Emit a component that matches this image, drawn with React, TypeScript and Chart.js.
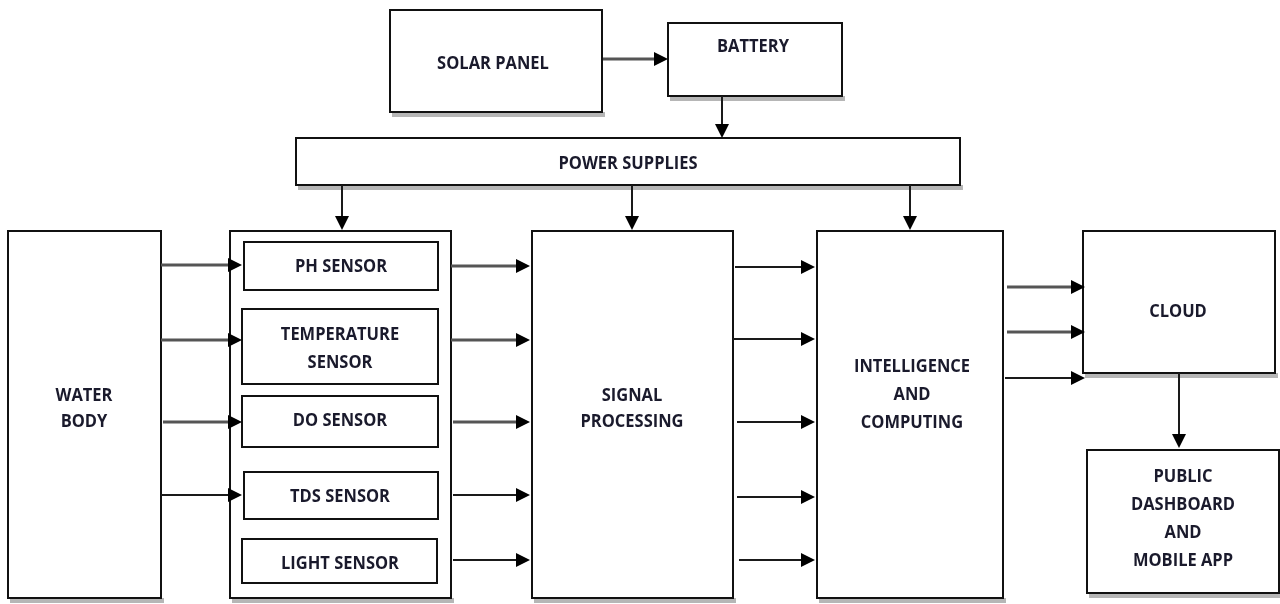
import React, { useEffect, useRef } from "react";
import { Chart, registerables } from "chart.js";

Chart.register(...registerables);

// Node boxes (diagram units: x to the right, y downwards)
const nodeLabels: string[][] = [
  ["SOLAR PANEL"],
  ["BATTERY"],
  ["POWER SUPPLIES"],
  ["WATER", "BODY"],
  [],
  ["PH SENSOR"],
  ["TEMPERATURE", "SENSOR"],
  ["DO SENSOR"],
  ["TDS SENSOR"],
  ["LIGHT SENSOR"],
  ["SIGNAL", "PROCESSING"],
  ["INTELLIGENCE", "AND", "COMPUTING"],
  ["CLOUD"],
  ["PUBLIC", "DASHBOARD", "AND", "MOBILE APP"],
];
const nodeX0 = [390, 668, 296, 8, 230, 244, 242, 242, 244, 242, 532, 817, 1083, 1087];
const nodeX1 = [602, 842, 960, 161, 451, 438, 438, 438, 438, 437, 733, 1003, 1275, 1279];
const nodeY0 = [10, 23, 138, 231, 231, 242, 309, 396, 472, 539, 231, 231, 231, 450];
const nodeY1 = [112, 96, 185, 598, 598, 290, 384, 447, 519, 583, 598, 598, 373, 593];
// y of first text line, spacing per line
const nodeTextY = [64, 47, 164, 396, 0, 267, 335, 421, 497, 564, 396, 367, 312, 477];
const nodeTextX = [493, 753, 628, 84, 0, 341, 340, 340, 340, 340, 632, 912, 1178, 1183];
const nodeLineGap = [0, 0, 0, 26, 0, 0, 28, 0, 0, 0, 26, 28, 0, 28];

// Arrows: start (x,y) -> end (x,y)
const arrowX0 = [603, 722, 342, 632, 910, 161, 161, 163, 161, 451, 451, 453, 453, 453, 735, 733, 737, 737, 739, 1007, 1007, 1005, 1179];
const arrowY0 = [59, 96, 185, 185, 185, 265, 340, 422, 495, 266, 340, 422, 495, 560, 267, 339, 422, 497, 560, 287, 332, 378, 373];
const arrowX1 = [668, 722, 342, 632, 910, 242, 242, 242, 242, 530, 530, 530, 530, 530, 815, 815, 815, 815, 815, 1085, 1085, 1085, 1179];
const arrowY1 = [59, 138, 230, 230, 230, 265, 340, 422, 495, 266, 340, 422, 495, 560, 267, 339, 422, 497, 560, 287, 332, 378, 448];
const arrowGray = [1, 0, 0, 0, 0, 1, 1, 1, 0, 1, 1, 1, 0, 0, 0, 0, 0, 0, 0, 1, 1, 0, 0];

const diagramPlugin = {
  id: "diagram",
  afterDatasetsDraw(chart: any) {
    const ctx = chart.ctx as CanvasRenderingContext2D;
    const xs = chart.scales.x;
    const ys = chart.scales.y;
    const px = (v: number) => xs.getPixelForValue(v);
    const py = (v: number) => ys.getPixelForValue(v);
    ctx.save();
    // shadows
    for (let i = 0; i < nodeX0.length; i++) {
      const x0 = px(nodeX0[i]), x1 = px(nodeX1[i]);
      const y1 = py(nodeY1[i]);
      ctx.fillStyle = "rgba(110,110,110,0.5)";
      ctx.fillRect(x0 + 2, y1, x1 - x0 + 1, 5);
    }
    // boxes
    for (let i = 0; i < nodeX0.length; i++) {
      const x0 = px(nodeX0[i]), x1 = px(nodeX1[i]);
      const y0 = py(nodeY0[i]), y1 = py(nodeY1[i]);
      ctx.fillStyle = "#ffffff";
      ctx.fillRect(x0, y0, x1 - x0, y1 - y0);
      ctx.strokeStyle = "#111111";
      ctx.lineWidth = 2;
      ctx.strokeRect(x0, y0, x1 - x0, y1 - y0);
    }
    // text
    ctx.fillStyle = "#1a1a2c";
    ctx.font = "bold 17px 'Open Sans', sans-serif";
    ctx.textAlign = "center";
    ctx.textBaseline = "middle";
    for (let i = 0; i < nodeLabels.length; i++) {
      const lines = nodeLabels[i];
      for (let j = 0; j < lines.length; j++) {
        const x = px(nodeTextX[i]);
        const y = py(nodeTextY[i] + j * nodeLineGap[i]);
        ctx.save();
        ctx.translate(x, y);
        ctx.scale(0.97, 1);
        ctx.fillText(lines[j], 0, 0);
        ctx.restore();
      }
    }
    // arrows
    for (let i = 0; i < arrowX0.length; i++) {
      const x0 = px(arrowX0[i]), y0 = py(arrowY0[i]);
      const x1 = px(arrowX1[i]), y1 = py(arrowY1[i]);
      const ang = Math.atan2(y1 - y0, x1 - x0);
      const head = 14;
      const hw = 7;
      const bx = x1 - head * Math.cos(ang);
      const by = y1 - head * Math.sin(ang);
      ctx.strokeStyle = arrowGray[i] ? "#555555" : "#1a1a1a";
      ctx.lineWidth = arrowGray[i] ? 3 : 2;
      ctx.beginPath();
      ctx.moveTo(x0, y0);
      ctx.lineTo(bx + 1 * Math.cos(ang), by + 1 * Math.sin(ang));
      ctx.stroke();
      ctx.fillStyle = "#000000";
      ctx.beginPath();
      ctx.moveTo(x1, y1);
      ctx.lineTo(bx - hw * Math.sin(ang), by + hw * Math.cos(ang));
      ctx.lineTo(bx + hw * Math.sin(ang), by - hw * Math.cos(ang));
      ctx.closePath();
      ctx.fill();
    }
    ctx.restore();
  },
};

export default function App() {
  const ref = useRef<HTMLCanvasElement | null>(null);
  useEffect(() => {
    if (!ref.current) return;
    const chart = new Chart(ref.current, {
      type: "scatter",
      data: {
        datasets: [
          {
            data: nodeX0.map((x, i) => ({ x: (x + nodeX1[i]) / 2, y: (nodeY0[i] + nodeY1[i]) / 2 })),
            pointRadius: 0,
          },
        ],
      },
      options: {
        animation: false,
        responsive: true,
        maintainAspectRatio: false,
        layout: { padding: 0 },
        plugins: { legend: { display: false }, tooltip: { enabled: false } },
        scales: {
          x: { type: "linear", min: 0, max: 1280, display: false },
          y: { type: "linear", min: 0, max: 604, reverse: true, display: false },
        },
      },
      plugins: [diagramPlugin],
    });
    return () => chart.destroy();
  }, []);
  return (
    <div style={{ position: "fixed", left: 0, top: 0, width: 1280, height: 604, background: "#fff" }}>
      <canvas ref={ref} />
    </div>
  );
}
